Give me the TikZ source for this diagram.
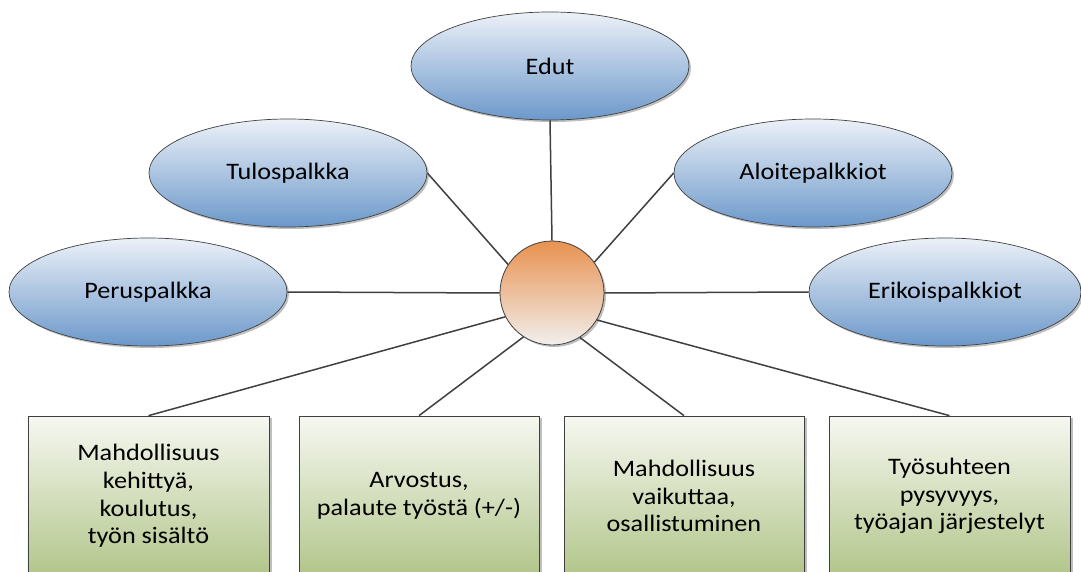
\documentclass[tikz,border=0pt]{standalone}
\usepackage{fontspec}
\setmainfont{Carlito}[FakeStretch=1.11]
\usetikzlibrary{shapes.geometric,shadows}
\definecolor{eltop}{HTML}{ECF1F8}
\definecolor{elbot}{HTML}{6C98CA}
\definecolor{cirtop}{HTML}{E8914F}
\definecolor{cirbot}{HTML}{F1EFED}
\definecolor{bxtop}{HTML}{F6F8F1}
\definecolor{bxbot}{HTML}{B2C58A}
\definecolor{linec}{HTML}{404040}
\begin{document}
\begin{tikzpicture}[x=1bp,y=-1bp,
  txt/.style={font=\fontsize{23.6bp}{27.7bp}\selectfont},
  oval/.style={ellipse, draw=linec, line width=0.7bp, inner sep=0pt,
    minimum width=278bp, minimum height=108bp, top color=eltop, bottom color=elbot,
    drop shadow={shadow xshift=2bp, shadow yshift=-2bp, opacity=0.25, fill=black}, txt},
  hub/.style={circle, draw=linec, line width=0.8bp, inner sep=0pt,
    minimum size=104bp, top color=cirtop, bottom color=cirbot,
    drop shadow={shadow xshift=2bp, shadow yshift=-2bp, opacity=0.25, fill=black}},
  card/.style={rectangle, draw=linec, line width=0.7bp, inner sep=0pt,
    minimum width=240bp, minimum height=160bp, top color=bxtop, bottom color=bxbot,
    align=center, drop shadow={shadow xshift=2.5bp, shadow yshift=-2bp, opacity=0.25, fill=black}, txt},
  conn/.style={draw=linec, line width=1.5bp}
]
\useasboundingbox (0,0) rectangle (1081,572);
\clip (0,0) rectangle (1081,572);
\fill[white] (0,0) rectangle (1081,572);

\node[hub] (c) at (552,293) {};
\node[oval] (edut) at (550,66) {Edut};
\node[oval] (tulos) at (288,173) {Tulospalkka};
\node[oval] (aloite) at (813,173) {Aloitepalkkiot};
\node[oval] (perus) at (148,292) {Peruspalkka};
\node[oval, minimum width=272bp] (eriko) at (945,292) {Erikoispalkkiot};

\node[card, minimum width=241bp] (b1) at (148.5,496) {Mahdollisuus\\kehittyä,\\koulutus,\\työn sisältö};
\node[card] (b2) at (419,496) {Arvostus,\\palaute työstä (+/-)};
\node[card] (b3) at (684,496) {Mahdollisuus\\vaikuttaa,\\osallistuminen};
\node[card, minimum width=241bp] (b4) at (949.5,496) {Työsuhteen\\pysyvyys,\\työajan järjestelyt};

\draw[conn] (edut.south) -- (c.90);
\draw[conn] (tulos.east) -- (c.147);
\draw[conn] (aloite.west) -- (c.36);
\draw[conn] (perus.east) -- (c.180);
\draw[conn] (eriko.west) -- (c.0);
\draw[conn] (b1.north) -- (c.207);
\draw[conn] (b2.north) -- (c.237);
\draw[conn] (b3.north) -- (c.302);
\draw[conn] (b4.north) -- (c.329);
\end{tikzpicture}
\end{document}
